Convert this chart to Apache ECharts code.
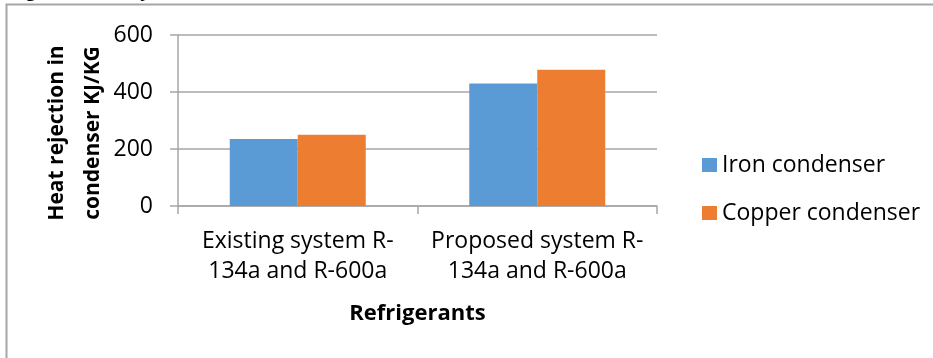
<!DOCTYPE html>
<html>
<head>
<meta charset="utf-8">
<script src="https://cdn.jsdelivr.net/npm/echarts@6/dist/echarts.min.js"></script>
<style>
  html, body { margin: 0; padding: 0; background: #fff; }
  #chart { width: 933px; height: 358px; }
</style>
</head>
<body>
<div id="chart"></div>
<script>
// Refrigerant systems on the category axis
const categories = ['Existing system R-\n134a and R-600a', 'Proposed system R-\n134a and R-600a'];
// Heat rejection in condenser (KJ/KG)
const ironCondenser = [235, 430];
const copperCondenser = [250, 478];
const seriesNames = ['Iron condenser', 'Copper condenser'];

const FONT = '"Open Sans", sans-serif';
const GRID_GRAY = '#a6a6a6';

const chart = echarts.init(document.getElementById('chart'), null, { renderer: 'canvas' });

chart.setOption({
  animation: false,
  backgroundColor: '#ffffff',
  textStyle: { fontFamily: FONT },
  grid: { left: 178, right: 276, top: 35, bottom: 152, containLabel: false },
  legend: {
    orient: 'vertical',
    left: 697,
    top: 145,
    itemWidth: 15,
    itemHeight: 14,
    itemGap: 18,
    icon: 'rect',
    data: seriesNames,
    textStyle: { fontFamily: FONT, fontSize: 23, color: '#000', lineHeight: 30 }
  },
  xAxis: {
    type: 'category',
    data: categories,
    name: 'Refrigerants',
    nameLocation: 'middle',
    nameGap: 93,
    nameTextStyle: { fontFamily: FONT, fontSize: 22, fontWeight: 'bold', color: '#000', lineHeight: 30 },
    axisLine: { show: true, lineStyle: { color: GRID_GRAY, width: 1.5 } },
    axisTick: { show: true, length: 8, lineStyle: { color: GRID_GRAY, width: 1.5 } },
    axisLabel: { fontFamily: FONT, fontSize: 23, color: '#000', lineHeight: 30, margin: 20, interval: 0 }
  },
  yAxis: {
    type: 'value',
    min: 0,
    max: 600,
    interval: 200,
    axisLine: { show: true, lineStyle: { color: GRID_GRAY, width: 1.5 } },
    axisTick: { show: true, length: 8, lineStyle: { color: GRID_GRAY, width: 1.5 } },
    axisLabel: { fontFamily: FONT, fontSize: 23, color: '#000', margin: 25 },
    splitLine: { show: true, lineStyle: { color: GRID_GRAY, width: 1.5 } }
  },
  series: [
    { name: seriesNames[0], type: 'bar', data: ironCondenser, barWidth: 68, barGap: '0%', itemStyle: { color: '#5b9bd5' } },
    { name: seriesNames[1], type: 'bar', data: copperCondenser, barWidth: 68, barGap: '0%', itemStyle: { color: '#ed7d31' } }
  ],
  graphic: [
    // outer chart frame
    { type: 'rect', silent: true, shape: { x: 6.5, y: 4.5, width: 960, height: 400 },
      style: { fill: 'none', stroke: '#a6a6a6', lineWidth: 2 } },
    // figure caption sitting above the frame
    { type: 'text', left: 8, top: -19,
      style: { text: 'Fig.5.3: Heat rejection in condenser', font: 'bold 20px "Liberation Serif", serif', fill: '#000' } },
    // y axis title, two lines rotated
    { type: 'text', x: 75, y: 133, rotation: Math.PI / 2,
      style: { text: 'Heat rejection in\ncondenser KJ/KG', font: 'bold 21px "Open Sans", sans-serif',
               fill: '#000', align: 'center', verticalAlign: 'middle', lineHeight: 36 } }
  ]
});
</script>
</body>
</html>
